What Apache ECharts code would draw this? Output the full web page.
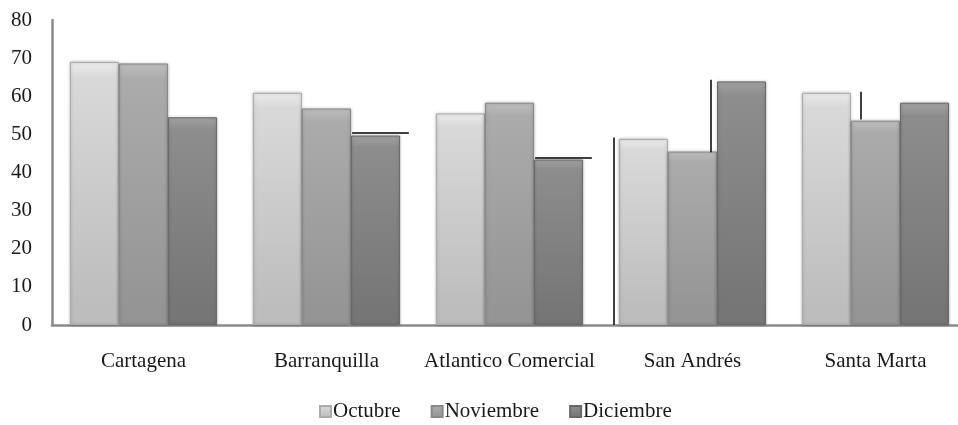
<!DOCTYPE html>
<html>
<head>
<meta charset="utf-8">
<script src="https://cdn.jsdelivr.net/npm/echarts@6/dist/echarts.min.js"></script>
<style>html,body{margin:0;padding:0;background:#fff;overflow:hidden}#c{width:967px;height:425px}</style>
</head>
<body>
<div id="c"></div>
<script>
const categories = ['Cartagena', 'Barranquilla', 'Atlantico Comercial', 'San Andrés', 'Santa Marta'];
const octubre = [69, 60.9, 55.5, 48.8, 60.9];
const noviembre = [68.6, 56.8, 58.3, 45.5, 53.6];
const diciembre = [54.5, 49.7, 43.4, 63.9, 58.3];
const seriesNames = ['Octubre', 'Noviembre', 'Diciembre'];
const yTicks = [0, 80, 10];
// stray black guide lines seen in the source image, in data units [x0, y0, x1, y1]
const strayLines = [
  [1.64, 50.3, 1.95, 50.3],
  [2.64, 43.75, 2.95, 43.75],
  [3.07, 49.2, 3.07, 0],
  [3.60, 64.3, 3.60, 45.3],
  [4.42, 61.2, 4.42, 53.9]
];

const palettes = [
  ['#ececec', '#d9d9d9', '#bdbdbd', '#ababab'],
  ['#bebebe', '#ababab', '#959595', '#898989'],
  ['#a2a2a2', '#8d8d8d', '#767676', '#696969']
];
function grad(p) {
  return new echarts.graphic.LinearGradient(0, 0, 0, 1, [
    {offset: 0, color: p[0]},
    {offset: 0.06, color: p[1]},
    {offset: 0.92, color: p[2]},
    {offset: 1, color: p[2]}
  ]);
}
const font = '"Liberation Serif", "Times New Roman", serif';
const dataSets = [octubre, noviembre, diciembre];
const series = seriesNames.map((n, i) => ({
  name: n,
  type: 'bar',
  xAxisIndex: 0,
  data: dataSets[i],
  barGap: '0%',
  barCategoryGap: '19.6%',
  itemStyle: {
    color: grad(palettes[i]),
    borderColor: palettes[i][3],
    borderWidth: 1,
    shadowColor: 'rgba(0,0,0,0.25)',
    shadowBlur: 3
  },
  emphasis: {disabled: true}
}));
series.push({
  type: 'line',
  xAxisIndex: 1,
  data: [],
  silent: true,
  markLine: {
    symbol: 'none',
    silent: true,
    label: {show: false},
    lineStyle: {color: '#000', width: 1.5, type: 'solid'},
    data: strayLines.map(l => [{coord: [l[0], l[1]]}, {coord: [l[2], l[3]]}])
  }
});

const chart = echarts.init(document.getElementById('c'));
chart.setOption({
  animation: false,
  backgroundColor: '#fff',
  grid: {left: 52, right: 0, top: 20, bottom: 100},
  legend: {
    bottom: -2,
    left: 314,
    itemWidth: 11,
    itemHeight: 11,
    itemGap: 30,
    icon: 'rect',
    data: seriesNames,
    textStyle: {fontFamily: font, fontSize: 21, color: '#1a1a1a', padding: [0, 0, 0, -3]}
  },
  xAxis: [{
    type: 'category',
    data: categories,
    axisLine: {lineStyle: {color: '#8a8a8a', width: 2.5}},
    axisTick: {show: false},
    axisLabel: {fontFamily: font, fontSize: 21, color: '#1a1a1a', margin: 26, interval: 0}
  }, {
    type: 'value',
    min: 0, max: 5,
    show: false
  }],
  yAxis: {
    type: 'value',
    min: yTicks[0], max: yTicks[1], interval: yTicks[2],
    axisLine: {show: true, lineStyle: {color: '#8a8a8a', width: 2.5}},
    axisTick: {show: false},
    splitLine: {show: false},
    axisLabel: {fontFamily: font, fontSize: 21, color: '#1a1a1a', margin: 20}
  },
  series: series
});
</script>
</body>
</html>
